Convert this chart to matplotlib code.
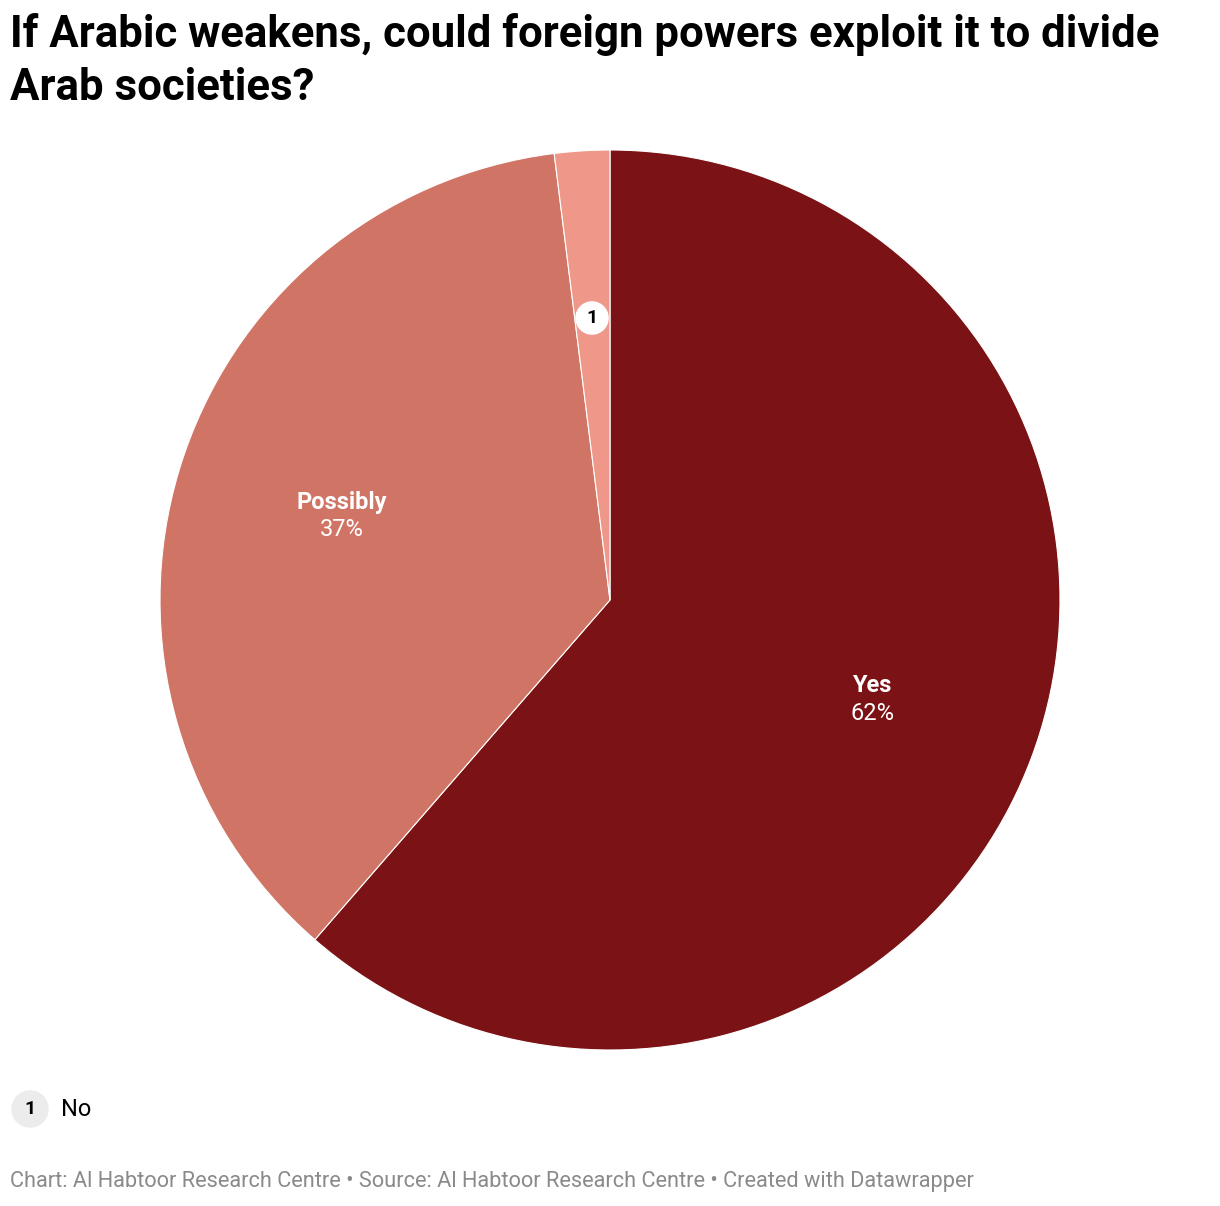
import matplotlib

matplotlib.use("Agg")
import matplotlib.pyplot as plt  # noqa: E402

plt.rcParams["font.family"] = "Roboto"

categories = ["Yes", "Possibly", "No"]
values = [62, 37, 2]
labels = ["62%", "37%", "2%"]
colors = ["#7b1215", "#d07466", "#ef9889"]

W, H = 1220, 1206
fig = plt.figure(figsize=(W / 100, H / 100), dpi=100)


def px(x, y):
    return x / W, 1 - y / H


ax = fig.add_axes([160 / W, 1 - 1050 / H, 900 / W, 900 / H])
ax.pie(values, colors=colors, startangle=90, counterclock=False,
       wedgeprops={"edgecolor": "white", "linewidth": 0.8})
ax.set_xlim(-1, 1)
ax.set_ylim(-1, 1)
ax.set_aspect("equal")

# in-slice labels
for (x, y), name, lab in [((872, 686), categories[0], labels[0]),
                          ((342, 502), categories[1], labels[1])]:
    fig.text(*px(x, y), name, color="white", fontsize=17, fontweight="bold",
             ha="center", va="center")
    fig.text(*px(x, y + 28), lab, color="white", fontsize=17,
             ha="center", va="center")

# numbered marker for the small slice
fig.text(*px(592, 318), "1", fontsize=14, fontweight="bold", ha="center",
         va="center", bbox=dict(boxstyle="circle,pad=0.4", fc="white", ec="none"))

fig.text(*px(10, 35), "If Arabic weakens, could foreign powers exploit it to divide",
         fontsize=31.5, fontweight="bold", va="center")
fig.text(*px(10, 88), "Arab societies?", fontsize=31.5, fontweight="bold", va="center")

# legend
fig.text(*px(30, 1109), "1", fontsize=14, fontweight="bold", ha="center",
         va="center", bbox=dict(boxstyle="circle,pad=0.5", fc="#ececec", ec="none"))
fig.text(*px(61, 1109), categories[2], fontsize=17, va="center")

fig.text(*px(10, 1182),
         "Chart: Al Habtoor Research Centre \u2022 Source: Al Habtoor Research Centre "
         "\u2022 Created with Datawrapper",
         fontsize=15.7, color="#8a8a8a", va="center")

fig.savefig("out.png", dpi=100, facecolor="white")
